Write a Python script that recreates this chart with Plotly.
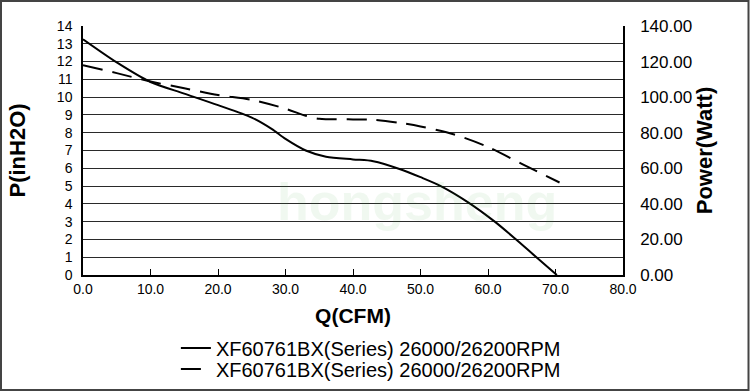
import plotly.graph_objects as go

# Pressure curve (left axis, inH2O)
q_pressure = [0, 5, 10, 15, 20, 25, 28, 30, 33, 36, 40, 43, 47, 50, 53, 57, 61, 64, 67, 70.2]
pressure = [13.25, 11.95, 10.85, 10.2, 9.55, 8.85, 8.2, 7.65, 7.0, 6.65, 6.5, 6.4, 5.95, 5.5, 5.0, 4.1, 3.0, 2.05, 1.05, 0.0]

# Power curve (right axis, Watt)
q_power = [0, 5, 10, 15, 20, 25, 30, 33, 35, 40, 43, 47, 50, 55, 60, 65, 70.6]
power = [118, 113.5, 108.8, 105, 101.2, 98.5, 93.5, 89.5, 87.8, 87.5, 87.3, 85.5, 83.5, 79, 72, 62.5, 52]

legend_names = ["XF60761BX(Series) 26000/26200RPM", "XF60761BX(Series) 26000/26200RPM"]

x_ticks = [0, 10, 20, 30, 40, 50, 60, 70, 80]
y_ticks = list(range(0, 15))
y2_ticks = [0, 20, 40, 60, 80, 100, 120, 140]

FONT = "Liberation Sans, Arial, sans-serif"

fig = go.Figure()
fig.add_trace(go.Scatter(
    x=q_pressure, y=pressure, mode="lines", name=legend_names[0],
    line=dict(color="black", width=2, shape="spline", smoothing=0.8),
    yaxis="y", legend="legend",
))
fig.add_trace(go.Scatter(
    x=q_power, y=power, mode="lines", name=legend_names[1],
    line=dict(color="black", width=2, dash="20px,10px", shape="spline", smoothing=0.8),
    yaxis="y2", legend="legend2",
))

# watermark (faint)
fig.add_trace(go.Scatter(
    x=[49.5], y=[3.8], mode="text", text=["<b>hongsheng</b>"],
    textfont=dict(family=FONT, size=52, color="rgba(60,170,60,0.08)"),
    showlegend=False, hoverinfo="skip", yaxis="y",
))

fig.update_layout(
    width=750, height=392,
    margin=dict(l=83, r=127, t=26, b=117, autoexpand=False),
    paper_bgcolor="white", plot_bgcolor="white",
    font=dict(family=FONT, color="black", size=14),
    xaxis=dict(
        range=[0, 80], tickvals=x_ticks, tickformat=".1f",
        showgrid=False, zeroline=False, automargin=False,
        showline=True, linecolor="black", linewidth=1.5, mirror=False,
        ticks="inside", ticklen=6, tickcolor="black", tickwidth=1,
        tickfont=dict(size=14),
        title=dict(text="<b>Q(CFM)</b>", font=dict(size=21), standoff=13),
    ),
    yaxis=dict(
        range=[0, 14], tickvals=y_ticks, automargin=False,
        showgrid=True, gridcolor="#2a2a2a", gridwidth=1, zeroline=False,
        showline=True, linecolor="black", linewidth=1.5,
        ticks="", ticklabelstandoff=6,
        tickfont=dict(size=14),
        title=dict(text="<b>P(inH2O)</b>", font=dict(size=22), standoff=25),
    ),
    yaxis2=dict(
        range=[0, 140], tickvals=y2_ticks, tickformat=".2f", automargin=False,
        overlaying="y", side="right",
        showgrid=False, zeroline=False,
        showline=True, linecolor="black", linewidth=1.5,
        ticks="", ticklabelstandoff=12,
        tickfont=dict(size=17),
        title=dict(text="<b>Power(Watt)</b>", font=dict(size=22), standoff=1),
    ),
    legend=dict(
        x=0.172, y=(275 - 348) / 249, xanchor="left", yanchor="middle",
        font=dict(size=20), bgcolor="rgba(0,0,0,0)", itemwidth=30,
    ),
    legend2=dict(
        x=0.172, y=(275 - 369) / 249, xanchor="left", yanchor="middle",
        font=dict(size=20), bgcolor="rgba(0,0,0,0)", itemwidth=30,
    ),
    showlegend=True,
    shapes=[dict(
        type="rect", xref="paper", yref="paper",
        x0=(1 - 83) / 540, x1=(748.5 - 83) / 540,
        y0=(275 - 390) / 249, y1=(275 - 1) / 249,
        line=dict(color="#444", width=2), fillcolor="rgba(0,0,0,0)", layer="below",
    )],
)

fig.write_html(
    "out.html",
    config={"displayModeBar": False},
    post_script="document.body.style.margin='0';document.body.style.overflow='hidden';",
)
